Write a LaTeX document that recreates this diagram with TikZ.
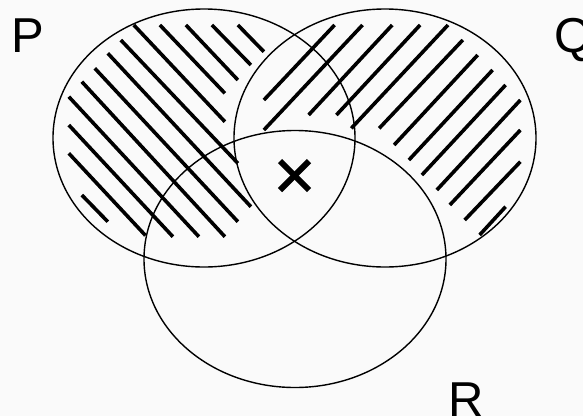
\documentclass[tikz,border=0pt]{standalone}
\usepackage{fontspec}
\setmainfont{Liberation Sans}
\begin{document}
\begin{tikzpicture}[x=1pt,y=-1pt,
  setline/.style={line width=1.4pt, black},
  hatchline/.style={line width=3.6pt, black},
  crossline/.style={line width=6pt, black},
  setlabel/.style={anchor=base west, inner sep=0pt, font=\fontsize{49pt}{49pt}\selectfont}]
\fill[fill={rgb,255:red,250;green,250;blue,250}] (0,0) rectangle (583,416);
\useasboundingbox (0,0) rectangle (583,416);
% hatching of P (without Q)
\foreach \a/\b/\c/\d in {237.9/25/263.9/51.7, 211.9/25/250.9/65, 185.9/25/237.9/80,
  159.9/25/224.9/93.3, 133.8/25/224.9/121.7, 120.8/40/237.9/163.3,
  107.8/53.3/250.9/206.7, 94.8/68.3/237.9/221.7, 81.8/81.7/224.9/236.7,
  68.8/96.7/198.9/236.7, 68.8/125/172.9/236.7, 68.8/153.3/145.5/235.5,
  81.8/195/107.8/221.7}
  \draw[hatchline] (\a,\b) -- (\c,\d);
% hatching of Q (without P)
\foreach \a/\b/\c/\d in {334.6/25/263.9/100, 362.5/25/263.9/130, 392.2/25/308.6/115,
  420.1/25/336.4/115, 448/25/351.3/128.3, 462.8/40/379.2/128.3,
  477.7/55/394.1/145, 492.6/70/408.9/160, 505.6/85/421.9/175,
  520.4/100/436.8/190, 520.4/130/449.8/205, 520.4/161.7/464.7/220,
  505.6/206.7/479.6/235}
  \draw[hatchline] (\a,\b) -- (\c,\d);
% the three sets
\coordinate (cP) at (204,138);
\coordinate (cQ) at (385,138);
\coordinate (cR) at (295,259);
\draw[setline] (cP) ellipse [x radius=151pt, y radius=129pt];
\draw[setline] (cQ) ellipse [x radius=151pt, y radius=129pt];
\draw[setline] (cR) ellipse [x radius=151pt, y radius=128.5pt];
% cross mark
\coordinate (xm) at (294.5,175.5);
\draw[crossline] ([shift={(-14.5,-14.5)}]xm) -- ([shift={(14.5,14.5)}]xm);
\draw[crossline] ([shift={(-14.5,14.5)}]xm) -- ([shift={(14.5,-14.5)}]xm);
% labels (cut by the picture's edge, as in the reference)
\node[setlabel] (lP) at (11,52.5) {P};
\node[setlabel] (lQ) at (554.5,52.5) {Q};
\node[setlabel] (lR) at (448,416) {R};
\end{tikzpicture}
\end{document}
